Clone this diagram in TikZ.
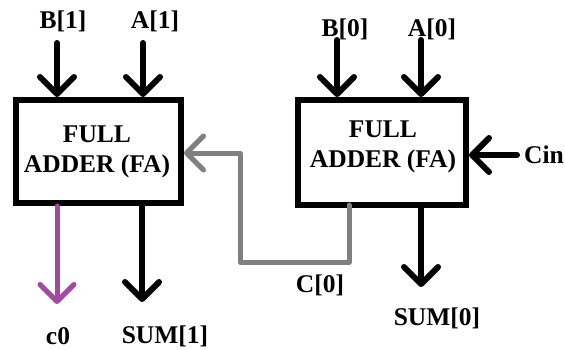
\documentclass[tikz,border=0pt]{standalone}
\usepackage{fontspec}
\setmainfont{Liberation Serif}
\usetikzlibrary{arrows.meta}
\definecolor{carrygray}{RGB}{128,128,128}
\definecolor{carrypurple}{RGB}{163,73,164}
\begin{document}
\begin{tikzpicture}[x=1pt,y=-1pt,
  fabox/.style={draw=black,line width=6pt,inner sep=0pt},
  boxtext/.style={align=center,inner sep=0pt,font=\bfseries\fontsize{25.5}{30}\selectfont},
  lbl/.style={inner sep=0pt,font=\bfseries\fontsize{25.5}{30}\selectfont},
  arr/.style={line width=6pt,line cap=round,-{Straight Barb[length=17pt,width=34pt,round]}},
  garr/.style={arr,line width=5pt,draw=carrygray,line join=round},
  parr/.style={arr,line width=5pt,draw=carrypurple}]
\useasboundingbox (0,0) rectangle (565,349);
% boxes
\node[fabox,minimum width=165pt,minimum height=103pt] (fa1) at (98.5,151.5) {};
\node[fabox,minimum width=168pt,minimum height=105pt] (fa0) at (382,152.5) {};
\node[boxtext] (fa1t) at (97,152) {FULL\\ADDER (FA)};
\node[boxtext] (fa0t) at (383,147) {FULL\\ADDER (FA)};
% labels
\node[lbl] (B1) at (63,21) {B[1]};
\node[lbl] (A1) at (155,21) {A[1]};
\node[lbl] (B0) at (345,29) {B[0]};
\node[lbl] (A0) at (432,29) {A[0]};
\node[lbl,anchor=east] (cin) at (564,155) {Cin};
\node[lbl] (c0) at (58,336) {c0};
\node[lbl] (sum1) at (165,336) {SUM[1]};
\node[lbl] (sum0) at (437,318) {SUM[0]};
\node[lbl] (c0lbl) at (320,285) {C[0]};
% inputs
\coordinate (b1) at (57,43);
\coordinate (a1) at (143,43);
\coordinate (b0) at (337,40);
\coordinate (a0) at (421,40);
\coordinate (cinS) at (517,155);
\draw[arr] (b1) -- (b1 |- fa1.north);
\draw[arr] (a1) -- (a1 |- fa1.north);
\draw[arr] (b0) -- (b0 |- fa0.north);
\draw[arr] (a0) -- (a0 |- fa0.north);
\draw[arr] (cinS) -- (cinS -| fa0.east);
% outputs
\coordinate (c0x) at (57,304);
\coordinate (s1x) at (142,302);
\coordinate (s0x) at (421,287);
\draw[parr] (c0x |- fa1.south) -- (c0x);
\draw[arr] (s1x |- fa1.south) -- (s1x);
\draw[arr] (s0x |- fa0.south) -- (s0x);
% carry
\coordinate (cr) at (349,262);
\coordinate (cl) at (240,153);
\draw[garr] ([yshift=3pt]cr |- fa0.south) -- (cr) -| (cl) -- (cl -| fa1.east);
\end{tikzpicture}
\end{document}
